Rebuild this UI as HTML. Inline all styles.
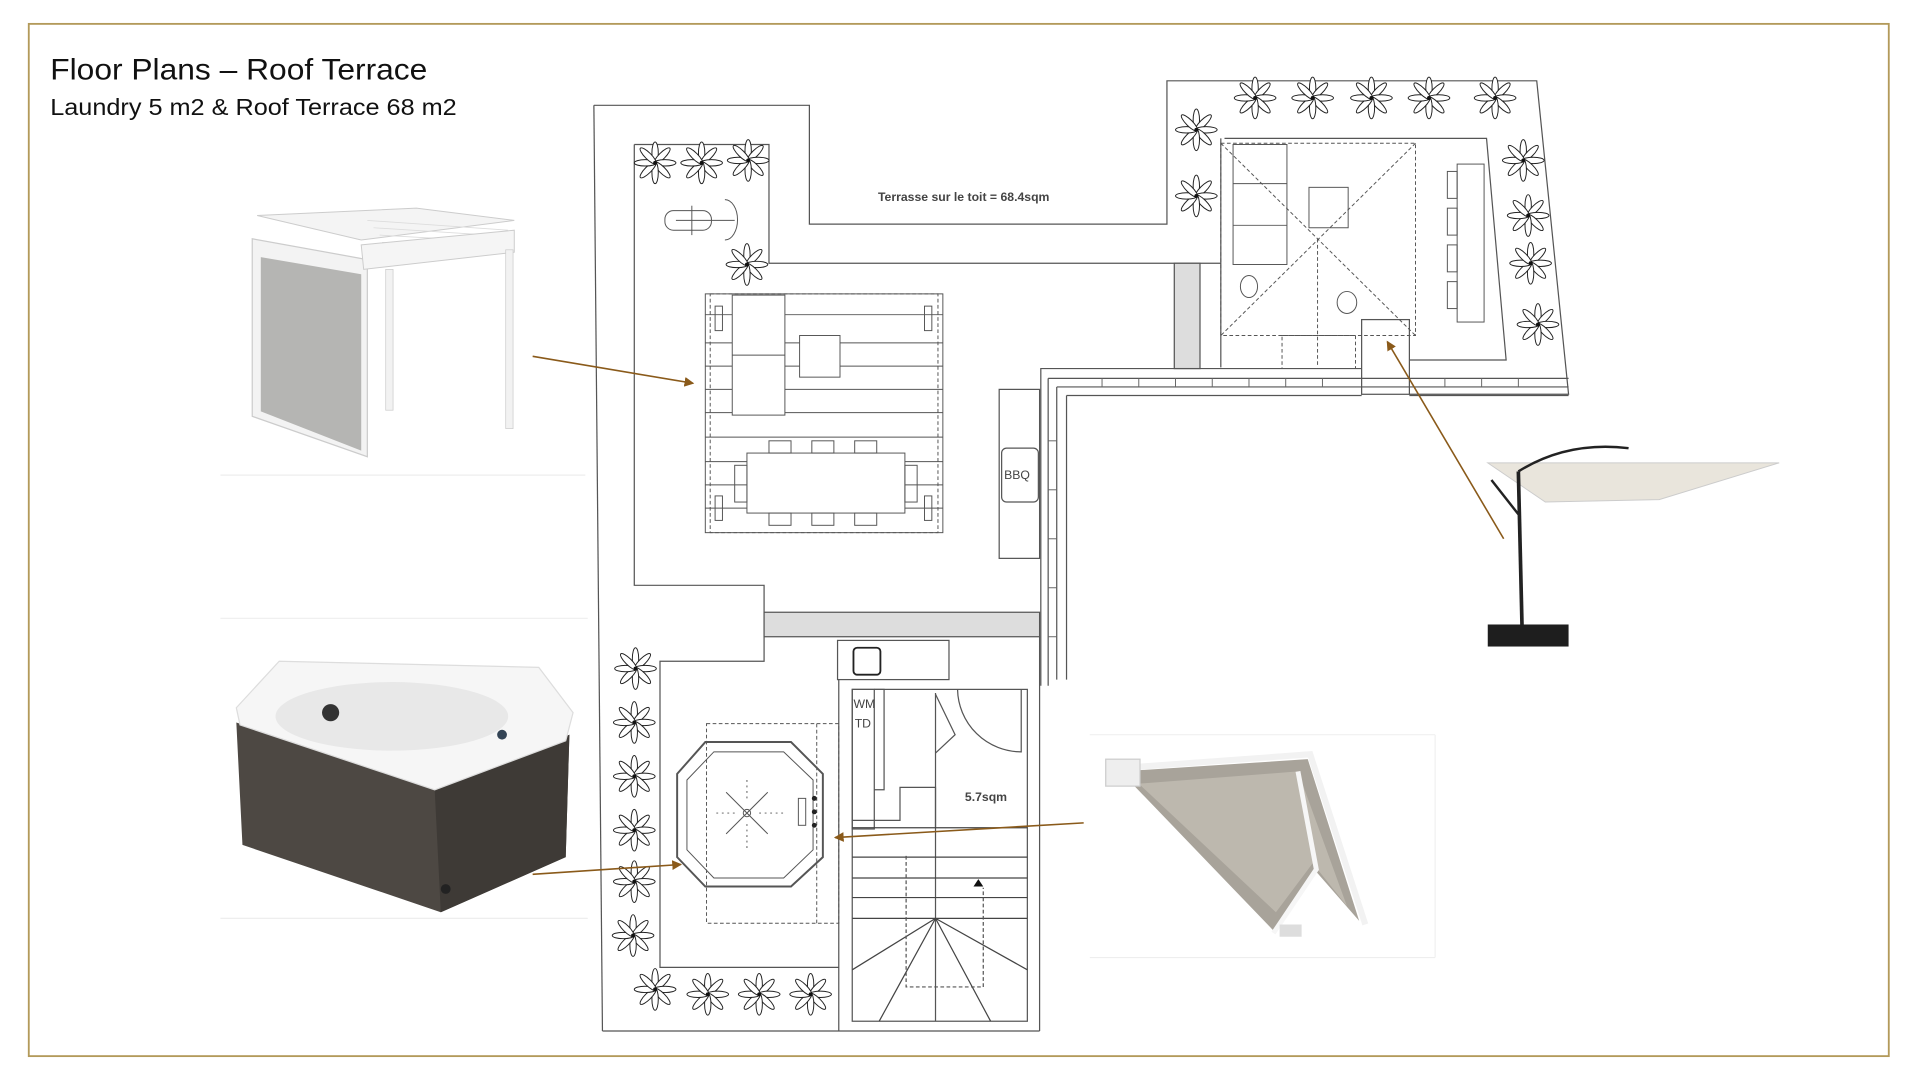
<!DOCTYPE html>
<html><head><meta charset="utf-8"><style>
html,body{margin:0;padding:0;background:#fff;width:1920px;height:1080px;overflow:hidden}
svg{display:block}
</style></head><body>
<svg width="1920" height="1080" viewBox="0 0 1568 882" preserveAspectRatio="none" xmlns="http://www.w3.org/2000/svg">
<defs>
<g id="fl">
<g fill="#fff" stroke="#222" stroke-width="0.8">
<ellipse cx="0" cy="-8" rx="2.6" ry="9"/>
<ellipse cx="0" cy="-8" rx="2.6" ry="9" transform="rotate(45)"/>
<ellipse cx="0" cy="-8" rx="2.6" ry="9" transform="rotate(90)"/>
<ellipse cx="0" cy="-8" rx="2.6" ry="9" transform="rotate(135)"/>
<ellipse cx="0" cy="-8" rx="2.6" ry="9" transform="rotate(180)"/>
<ellipse cx="0" cy="-8" rx="2.6" ry="9" transform="rotate(225)"/>
<ellipse cx="0" cy="-8" rx="2.6" ry="9" transform="rotate(270)"/>
<ellipse cx="0" cy="-8" rx="2.6" ry="9" transform="rotate(315)"/>
</g><circle r="1.6" fill="#111"/>
</g>
<marker id="ar" markerWidth="8" markerHeight="8" refX="7" refY="4" orient="auto" markerUnits="userSpaceOnUse"><path d="M0,0 L8,4 L0,8 z" fill="#8a5a1a"/></marker>
</defs>
<rect x="0" y="0" width="1568" height="882" fill="#fff"/>
<rect x="23.5" y="19.5" width="1519" height="843" fill="none" stroke="#b39a5a" stroke-width="1.5"/>
<text x="41" y="65" font-family="Liberation Sans, sans-serif" font-size="24" fill="#111" textLength="308" lengthAdjust="spacingAndGlyphs">Floor Plans – Roof Terrace</text>
<text x="41" y="94" font-family="Liberation Sans, sans-serif" font-size="19" fill="#111" textLength="332" lengthAdjust="spacingAndGlyphs">Laundry 5 m2 &amp; Roof Terrace 68 m2</text>

<!-- photos -->
<g>
<line x1="180" y1="388" x2="478" y2="388" stroke="#eee"/>
<polygon points="210,176 295,196 420,180 340,170" fill="#f4f4f4" stroke="#ccc" stroke-width="0.8"/>
<g stroke="#ddd" stroke-width="0.7"><line x1="300" y1="180" x2="415" y2="188"/><line x1="305" y1="186" x2="415" y2="193"/><line x1="310" y1="192" x2="415" y2="198"/><line x1="312" y1="198" x2="415" y2="203"/></g>
<polygon points="206,195 300,212 300,373 206,340" fill="#f3f3f3" stroke="#ccc"/>
<polygon points="213,210 295,224 295,368 213,336" fill="#b5b5b3"/>
<polygon points="295,200 420,188 420,206 297,220" fill="#f5f5f5" stroke="#ccc" stroke-width="0.8"/>
<rect x="315" y="220" width="6" height="115" fill="#f2f2f2" stroke="#ccc" stroke-width="0.6"/>
<rect x="413" y="204" width="6" height="146" fill="#f2f2f2" stroke="#ccc" stroke-width="0.6"/>
</g>
<g>
<line x1="180" y1="505" x2="480" y2="505" stroke="#f0f0f0"/><line x1="180" y1="750" x2="480" y2="750" stroke="#eee"/>
<polygon points="193,590 355,645 465,600 462,700 360,745 198,690" fill="#4d4843"/>
<polygon points="355,645 465,600 462,700 360,745" fill="#3e3a36"/>
<polygon points="193,578 228,540 440,545 468,582 462,605 355,645 196,592" fill="#f6f6f6" stroke="#ddd"/>
<ellipse cx="320" cy="585" rx="95" ry="28" fill="#e8e8e8"/>
<circle cx="270" cy="582" r="7" fill="#333"/>
<circle cx="410" cy="600" r="4" fill="#345"/>
<circle cx="364" cy="726" r="4" fill="#222"/>
</g>
<g>
<polygon points="1215,378 1453,378 1355,408 1262,410" fill="#e9e5dc" stroke="#ccc" stroke-width="0.8"/>
<path d="M1240,385 Q1280,360 1330,366" fill="none" stroke="#222" stroke-width="2"/>
<line x1="1240" y1="385" x2="1243" y2="512" stroke="#222" stroke-width="3"/>
<line x1="1218" y1="392" x2="1240" y2="420" stroke="#222" stroke-width="2"/>
<rect x="1215" y="510" width="66" height="18" fill="#1e1e1e"/>
</g>
<g>
<line x1="890" y1="600" x2="1172" y2="600" stroke="#f0f0f0"/><line x1="890" y1="782" x2="1172" y2="782" stroke="#eee"/><line x1="1172" y1="600" x2="1172" y2="782" stroke="#f0f0f0"/>
<polygon points="915,630 1068,620 1110,752 1075,712 1040,760" fill="#a8a39a"/>
<polygon points="930,640 1060,630 1100,740 1072,705 1042,745" fill="#bdb8ae"/>
<polyline points="905,628 1070,616 1115,755" fill="none" stroke="#f2f2f2" stroke-width="5"/>
<polyline points="1060,630 1075,710 1040,762" fill="none" stroke="#f6f6f6" stroke-width="4"/>
<rect x="903" y="620" width="28" height="22" fill="#eee" stroke="#ccc"/>
<rect x="1045" y="755" width="18" height="10" fill="#ddd"/>
</g>

<!-- plan -->
<g fill="none" stroke="#555" stroke-width="1">
<polyline points="485,86 661,86 661,183 953,183 953,66 1255,66 1281,322 1151,322"/>
<line x1="485" y1="86" x2="492" y2="842"/>
<line x1="492" y1="842" x2="849" y2="842"/>
<polyline points="518,118 628,118 628,215 997,215"/>
<polyline points="518,118 518,478 624,478 624,540 539,540 539,790 685,790"/>
<polyline points="1000,113 1214,113 1230,294 1151,294"/>
<line x1="997" y1="113" x2="997" y2="300"/>
<rect x="1112" y="261" width="39" height="61"/>
<polyline points="850,560 850,301 1112,301"/>
<line x1="856" y1="309" x2="1281" y2="309"/>
<line x1="871" y1="323" x2="1112" y2="323"/><line x1="1151" y1="323" x2="1281" y2="323"/>
<line x1="856" y1="309" x2="856" y2="560"/><line x1="863" y1="316" x2="863" y2="555"/><line x1="871" y1="323" x2="871" y2="555"/>
<line x1="863" y1="316" x2="1281" y2="316"/>
<rect x="816" y="318" width="33" height="138"/>
<rect x="818" y="366" width="30" height="44" rx="4"/>
<rect x="684" y="523" width="91" height="32"/>
<rect x="697" y="529" width="22" height="22" rx="3" stroke-width="1.5" stroke="#222"/>
<line x1="685" y1="555" x2="685" y2="842"/>
<line x1="849" y1="520" x2="849" y2="842"/>
<rect x="696" y="563" width="143" height="271"/>
<rect x="696" y="563" width="18" height="114"/>
<polyline points="714,563 722,563 722,645 714,645"/>
<polyline points="696,670 735,670 735,643 764,643 764,676"/>
<line x1="764" y1="566" x2="764" y2="834"/>
<path d="M782,563 A52,52 0 0 0 834,614 L834,563" />
<polyline points="764,567 780,600 764,615"/>
<g stroke="#444"><line x1="696" y1="676" x2="839" y2="676"/><line x1="696" y1="700" x2="839" y2="700"/><line x1="696" y1="717" x2="839" y2="717"/><line x1="696" y1="733" x2="839" y2="733"/><line x1="696" y1="750" x2="839" y2="750"/>
<line x1="764" y1="750" x2="696" y2="792"/><line x1="764" y1="750" x2="718" y2="834"/><line x1="764" y1="750" x2="839" y2="792"/><line x1="764" y1="750" x2="809" y2="834"/></g>
<polyline points="740,699 740,806 803,806 803,725" stroke-dasharray="3,2"/>
</g>
<path d="M799,718 l4,6 h-8z" fill="#111"/>
<rect x="624" y="500" width="225" height="20" fill="#ddd" stroke="#555"/>
<rect x="959" y="215" width="21" height="86" fill="#ddd" stroke="#555"/>
<g stroke="#666" stroke-width="0.8">
<line x1="900" y1="309" x2="900" y2="316"/><line x1="930" y1="309" x2="930" y2="316"/><line x1="960" y1="309" x2="960" y2="316"/><line x1="990" y1="309" x2="990" y2="316"/><line x1="1020" y1="309" x2="1020" y2="316"/><line x1="1050" y1="309" x2="1050" y2="316"/><line x1="1080" y1="309" x2="1080" y2="316"/><line x1="1180" y1="309" x2="1180" y2="316"/><line x1="1210" y1="309" x2="1210" y2="316"/><line x1="1240" y1="309" x2="1240" y2="316"/>
<line x1="856" y1="360" x2="863" y2="360"/><line x1="856" y1="400" x2="863" y2="400"/><line x1="856" y1="440" x2="863" y2="440"/><line x1="856" y1="480" x2="863" y2="480"/><line x1="856" y1="520" x2="863" y2="520"/>
</g>
<g fill="none" stroke="#555" stroke-width="0.8">
<rect x="576" y="240" width="194" height="195"/>
<rect x="580" y="240" width="186" height="195" stroke-dasharray="3,2"/>
<line x1="576" y1="257" x2="770" y2="257"/><line x1="576" y1="280" x2="770" y2="280"/><line x1="576" y1="299" x2="770" y2="299"/><line x1="576" y1="318" x2="770" y2="318"/><line x1="576" y1="337" x2="770" y2="337"/><line x1="576" y1="357" x2="770" y2="357"/><line x1="576" y1="377" x2="770" y2="377"/><line x1="576" y1="396" x2="770" y2="396"/><line x1="576" y1="415" x2="770" y2="415"/>
<rect x="598" y="241" width="43" height="98" fill="#fff"/><line x1="598" y1="290" x2="641" y2="290"/>
<rect x="653" y="274" width="33" height="34" fill="#fff"/>
<rect x="584" y="250" width="6" height="20"/><rect x="755" y="250" width="6" height="20"/>
<rect x="584" y="405" width="6" height="20"/><rect x="755" y="405" width="6" height="20"/>
<rect x="610" y="370" width="129" height="49" fill="#fff"/>
<rect x="628" y="360" width="18" height="10"/><rect x="663" y="360" width="18" height="10"/><rect x="698" y="360" width="18" height="10"/>
<rect x="628" y="419" width="18" height="10"/><rect x="663" y="419" width="18" height="10"/><rect x="698" y="419" width="18" height="10"/>
<rect x="600" y="380" width="10" height="30"/><rect x="739" y="380" width="10" height="30"/>
</g>
<g fill="none" stroke="#555" stroke-width="0.8">
<rect x="1007" y="118" width="44" height="98"/><line x1="1007" y1="150" x2="1051" y2="150"/><line x1="1007" y1="184" x2="1051" y2="184"/>
<rect x="1069" y="153" width="32" height="33"/>
<rect x="997" y="117" width="159" height="157" stroke-dasharray="3,2"/>
<line x1="997" y1="117" x2="1156" y2="274" stroke-dasharray="3,2"/><line x1="1156" y1="117" x2="997" y2="274" stroke-dasharray="3,2"/>
<line x1="1076" y1="195" x2="1076" y2="300" stroke-dasharray="3,2"/>
<rect x="1047" y="274" width="60" height="27" stroke-dasharray="3,2"/>
<rect x="1190" y="134" width="22" height="129"/>
<rect x="1182" y="140" width="8" height="22"/><rect x="1182" y="170" width="8" height="22"/><rect x="1182" y="200" width="8" height="22"/><rect x="1182" y="230" width="8" height="22"/>
<ellipse cx="1020" cy="234" rx="7" ry="9"/><ellipse cx="1100" cy="247" rx="8" ry="9"/>
<rect x="543" y="172" width="38" height="16" rx="7"/><line x1="565" y1="168" x2="565" y2="192"/><line x1="552" y1="180" x2="600" y2="180"/>
<path d="M592,163 A10,16 0 0 1 592,196"/>
<polygon points="576,606 646,606 672,632 672,700 646,724 576,724 553,700 553,632" stroke-width="1.6"/>
<polygon points="583,614 640,614 664,637 664,694 640,717 583,717 561,694 561,637"/>
<rect x="577" y="591" width="108" height="163" stroke-dasharray="3,2"/>
<line x1="667" y1="591" x2="667" y2="754" stroke-dasharray="3,2"/>
<line x1="593" y1="647" x2="627" y2="681"/><line x1="627" y1="647" x2="593" y2="681"/>
<circle cx="610" cy="664" r="3"/>
<line x1="585" y1="664" x2="600" y2="664" stroke-dasharray="1.5,3"/><line x1="620" y1="664" x2="640" y2="664" stroke-dasharray="1.5,3"/>
<line x1="610" y1="637" x2="610" y2="655" stroke-dasharray="1.5,3"/><line x1="610" y1="673" x2="610" y2="695" stroke-dasharray="1.5,3"/>
<rect x="652" y="652" width="6" height="22"/>
</g>
<g fill="#222"><circle cx="665" cy="652" r="2"/><circle cx="665" cy="663" r="2"/><circle cx="665" cy="674" r="2"/></g>

<g>
<use href="#fl" x="1025" y="80"/><use href="#fl" x="1072" y="80"/><use href="#fl" x="1120" y="80"/><use href="#fl" x="1167" y="80"/><use href="#fl" x="1221" y="80"/>
<use href="#fl" x="977" y="106"/><use href="#fl" x="977" y="160"/>
<use href="#fl" x="1244" y="131"/><use href="#fl" x="1248" y="176"/><use href="#fl" x="1250" y="215"/><use href="#fl" x="1256" y="265"/>
<use href="#fl" x="535" y="133"/><use href="#fl" x="573" y="133"/><use href="#fl" x="611" y="131"/><use href="#fl" x="610" y="216"/>
<use href="#fl" x="519" y="546"/><use href="#fl" x="518" y="590"/><use href="#fl" x="518" y="634"/><use href="#fl" x="518" y="678"/><use href="#fl" x="518" y="720"/><use href="#fl" x="517" y="764"/>
<use href="#fl" x="535" y="808"/><use href="#fl" x="578" y="812"/><use href="#fl" x="620" y="812"/><use href="#fl" x="662" y="812"/>
</g>

<g font-family="Liberation Sans, sans-serif" fill="#444">
<text x="717" y="164" font-size="10" font-weight="bold">Terrasse sur le toit = 68.4sqm</text>
<text x="820" y="391" font-size="10">BBQ</text>
<text x="697" y="578" font-size="10">WM</text>
<text x="698" y="594" font-size="10">TD</text>
<text x="788" y="654" font-size="10" font-weight="bold">5.7sqm</text>
</g>

<g stroke="#8a5a1a" stroke-width="1.3" fill="none" marker-end="url(#ar)">
<line x1="435" y1="291" x2="566" y2="313"/>
<line x1="1228" y1="440" x2="1133" y2="279"/>
<line x1="435" y1="714" x2="556" y2="706"/>
<line x1="885" y1="672" x2="682" y2="684"/>
</g>
</svg>
</body></html>
